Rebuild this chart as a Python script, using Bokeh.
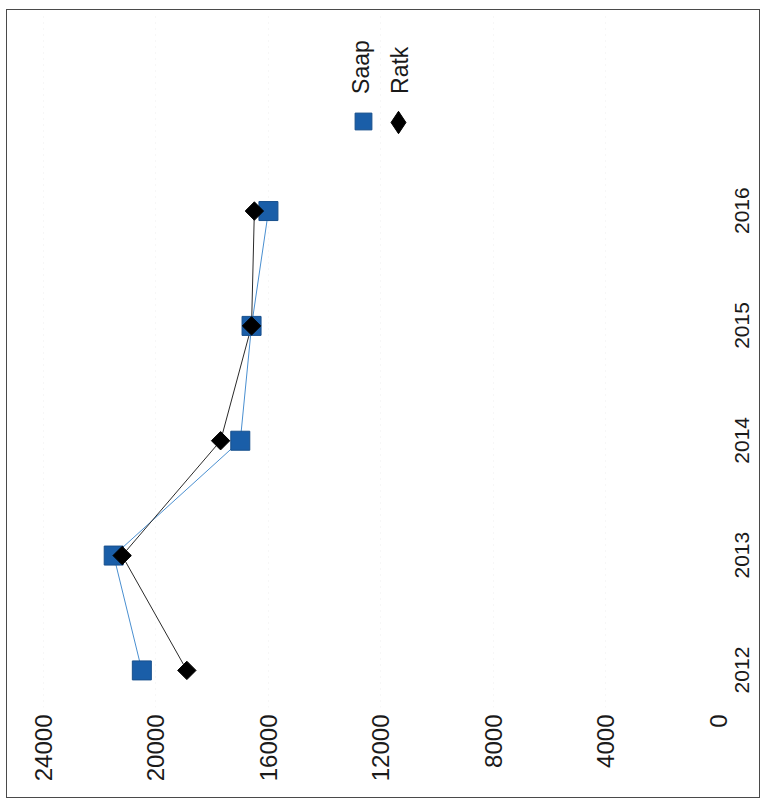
import math
from bokeh.plotting import figure
from bokeh.models import (Range1d, FixedTicker, Legend, LegendItem, Label,
                          ColumnDataSource, LinearAxis)
from bokeh.embed import file_html
from bokeh.resources import INLINE
from bokeh.core.properties import value

years = [2012, 2013, 2014, 2015, 2016]
saap = [20500, 21500, 17000, 16600, 16000]
ratk = [18900, 21200, 17700, 16600, 16500]
value_ticks = [0, 4000, 8000, 12000, 16000, 20000, 24000]
series_names = ["Saap", "Ratk"]

FONT = "Liberation Sans"
Y0, Y1 = 2011.677, 2017.729
LABEL_SHIFT = 0.2  # centres the rotated year labels on their ticks

p = figure(width=754, height=789, output_backend="svg", toolbar_location=None,
           x_range=Range1d(25027, 0), y_range=Range1d(Y0, Y1),
           y_axis_location=None,
           min_border_left=7, min_border_right=43, min_border_top=2, min_border_bottom=92)
p.styles = {"border": "1px solid #4a4a4a", "margin-left": "6px", "margin-top": "9px"}
p.outline_line_color = None
p.background_fill_color = "white"
p.border_fill_color = "white"

# value axis (bottom, rotated labels)
p.xaxis.ticker = FixedTicker(ticks=value_ticks)
p.xaxis.major_label_orientation = math.pi / 2
p.xaxis.major_label_text_font = FONT
p.xaxis.major_label_text_font_size = "24px"
p.xaxis.major_label_text_color = "#1a1a1a"
p.xaxis.major_label_standoff = 1
p.xaxis.axis_line_color = None
p.xaxis.major_tick_line_color = None
p.xaxis.minor_tick_line_color = None

# year axis (right, rotated labels)
p.extra_y_ranges = {"yearlab": Range1d(Y0 + LABEL_SHIFT, Y1 + LABEL_SHIFT)}
yax = LinearAxis(y_range_name="yearlab", ticker=FixedTicker(ticks=years))
yax.major_label_orientation = math.pi / 2
yax.major_label_text_font = FONT
yax.major_label_text_font_size = "21px"
yax.major_label_text_color = "#1a1a1a"
yax.major_label_standoff = 18
yax.axis_line_color = None
yax.major_tick_line_color = None
yax.minor_tick_line_color = None
p.add_layout(yax, "right")

p.xgrid.ticker = FixedTicker(ticks=value_ticks)
p.xgrid.grid_line_color = "#eeeeee"
p.xgrid.grid_line_dash = "1 5"
p.ygrid.grid_line_color = None
p.ygrid.visible = False

# series
p.line(x=saap, y=years, line_color="#4a8fd0", line_width=1)
p.line(x=ratk, y=years, line_color="#2a2a2a", line_width=1)
r_s = p.scatter(x=saap, y=years, marker="square", size=19,
                fill_color="#1a5ea8", line_color="#174f8c", line_width=1)
r_r = p.scatter(x=ratk, y=years, marker="square", angle=math.pi / 4, size=13,
                fill_color="black", line_color="black", line_width=1)

# legend-only glyph for the diamond key (its single point is off-screen NaN)
keysrc = ColumnDataSource(data=dict(x=[float("nan")], y=[float("nan")]))
r_key = p.scatter(x="x", y="y", source=keysrc, marker="diamond",
                  fill_color="black", line_color="black", line_width=1)

common = dict(orientation="horizontal", label_width=0, label_standoff=0,
              label_height=0, spacing=0, padding=0, margin=0,
              border_line_color=None, background_fill_alpha=0,
              label_text_font_size="1px")
leg_s = Legend(items=[LegendItem(label=value(" "), renderers=[r_s])],
               location=(328, 565), glyph_width=42, glyph_height=42, **common)
leg_r = Legend(items=[LegendItem(label=value(" "), renderers=[r_key])],
               location=(356, 557), glyph_width=56, glyph_height=56, **common)
p.add_layout(leg_s)
p.add_layout(leg_r)

for name, xv in zip(series_names, [12692, 11337]):
    p.add_layout(Label(x=xv, y=2017.02, text=name, angle=math.pi / 2,
                       text_align="left", text_baseline="middle",
                       text_font=FONT, text_font_size="23px", text_color="#1a1a1a"))

open("out.html", "w").write(file_html(p, INLINE))
